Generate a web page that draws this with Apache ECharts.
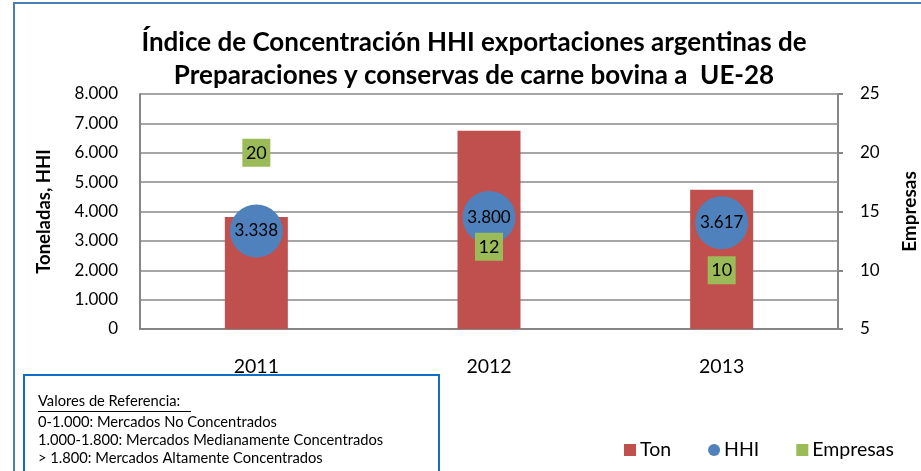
<!DOCTYPE html>
<html>
<head>
<meta charset="utf-8">
<script src="https://cdn.jsdelivr.net/npm/echarts@6/dist/echarts.min.js"></script>
<style>
    html, body { margin: 0; padding: 0; background: #fff; }
    #chart-main { width: 921px; height: 471px; }
</style>
</head>
<body>
<div id="chart-main"></div>
<script>
    'use strict';

    var years = ['2011', '2012', '2013'];
    var ton = [3810, 6745, 4740];
    var hhi = [3338, 3800, 3617];
    var empresas = [20, 12, 10];
    var refLines = [
        '0-1.000: Mercados No Concentrados',
        '1.000-1.800: Mercados Medianamente Concentrados',
        '> 1.800: Mercados Altamente Concentrados'
    ];

    var FONT = 'Lato';

    // 3338 -> "3.338"
    function miles(v) {
        return String(v).replace(/\B(?=(\d{3})+(?!\d))/g, '.');
    }

    var option = {
        animation: false,
        textStyle: {fontFamily: FONT, color: '#000'},
        title: {
            text: 'Índice de Concentración HHI exportaciones argentinas de\nPreparaciones y conservas de carne bovina a  UE-28',
            left: 469,
            top: 21,
            textAlign: 'center',
            textStyle: {fontFamily: FONT, fontSize: 26, fontWeight: 'bold', lineHeight: 33, color: '#000'}
        },
        legend: {
            left: 624,
            top: 440,
            padding: 0,
            itemWidth: 12,
            itemHeight: 12,
            itemGap: 37,
            textStyle: {fontFamily: FONT, fontSize: 19.5, color: '#000', padding: [0, 0, 0, -1]},
            data: [
                {name: 'Ton', icon: 'rect'},
                {name: 'HHI', icon: 'circle'},
                {name: 'Empresas', icon: 'rect'}
            ]
        },
        grid: {left: 140, right: 83, top: 94, bottom: 142, containLabel: false, outerBoundsMode: 'none'},
        xAxis: {
            type: 'category',
            data: years,
            axisLine: {lineStyle: {color: '#868686', width: 2}},
            axisTick: {show: false},
            axisLabel: {fontFamily: FONT, fontSize: 19.5, color: '#000', margin: 28}
        },
        yAxis: [
            {
                type: 'value',
                min: 0,
                max: 8000,
                interval: 1000,
                name: 'Toneladas, HHI',
                nameLocation: 'middle',
                nameRotate: 90,
                nameGap: 86,
                nameTextStyle: {fontFamily: FONT, fontSize: 18.5, fontWeight: 'bold', color: '#000'},
                axisLine: {show: true, lineStyle: {color: '#868686', width: 2}},
                axisTick: {show: false},
                axisLabel: {fontFamily: FONT, fontSize: 17, color: '#000', margin: 22, formatter: miles},
                splitLine: {lineStyle: {color: '#a6a6a6', width: 2}}
            },
            {
                type: 'value',
                min: 5,
                max: 25,
                interval: 5,
                name: 'Empresas',
                nameLocation: 'middle',
                nameRotate: 90,
                nameGap: 62,
                nameTextStyle: {fontFamily: FONT, fontSize: 19, fontWeight: 'bold', color: '#000'},
                axisLine: {show: true, lineStyle: {color: '#868686', width: 2}},
                axisTick: {show: true, length: 5, lineStyle: {color: '#868686', width: 2}},
                axisLabel: {fontFamily: FONT, fontSize: 17, color: '#000', margin: 22},
                splitLine: {show: false}
            }
        ],
        series: [
            {
                name: 'Ton',
                type: 'bar',
                barWidth: 63,
                yAxisIndex: 0,
                itemStyle: {color: '#c0504d'},
                data: ton
            },
            {
                name: 'HHI',
                type: 'scatter',
                yAxisIndex: 0,
                symbol: 'circle',
                symbolSize: 53,
                itemStyle: {color: '#4f81bd', opacity: 1},
                label: {
                    show: true,
                    position: 'inside',
                    fontFamily: FONT,
                    fontSize: 17,
                    color: '#000',
                    formatter: function (p) { return miles(p.value); }
                },
                data: hhi
            },
            {
                name: 'Empresas',
                type: 'scatter',
                yAxisIndex: 1,
                symbol: 'rect',
                symbolSize: 28,
                itemStyle: {color: '#9bbb59', opacity: 1},
                label: {
                    show: true,
                    position: 'inside',
                    fontFamily: FONT,
                    fontSize: 18,
                    color: '#000'
                },
                data: empresas
            }
        ],
        graphic: [
            {
                type: 'rect',
                shape: {x: 14, y: 3, width: 1000, height: 600},
                style: {fill: 'none', stroke: '#4a7ebb', lineWidth: 2},
                silent: true
            },
            {
                type: 'rect',
                shape: {x: 24, y: 375, width: 415, height: 200},
                style: {fill: '#fff', stroke: '#0f6fc6', lineWidth: 2},
                silent: true
            },
            {
                type: 'text',
                left: 38,
                top: 394,
                style: {text: 'Valores de Referencia:', font: '14.7px ' + FONT, fill: '#000'}
            },
            {
                type: 'rect',
                shape: {x: 38, y: 411, width: 153, height: 1},
                style: {fill: '#000'}
            },
            {
                type: 'text',
                left: 38,
                top: 413,
                style: {text: refLines.join('\n'), font: '14.7px ' + FONT, lineHeight: 18, fill: '#000'}
            }
        ]
    };

    var myChart = echarts.init(document.getElementById('chart-main'));
    myChart.setOption(option);
</script>
</body>
</html>
